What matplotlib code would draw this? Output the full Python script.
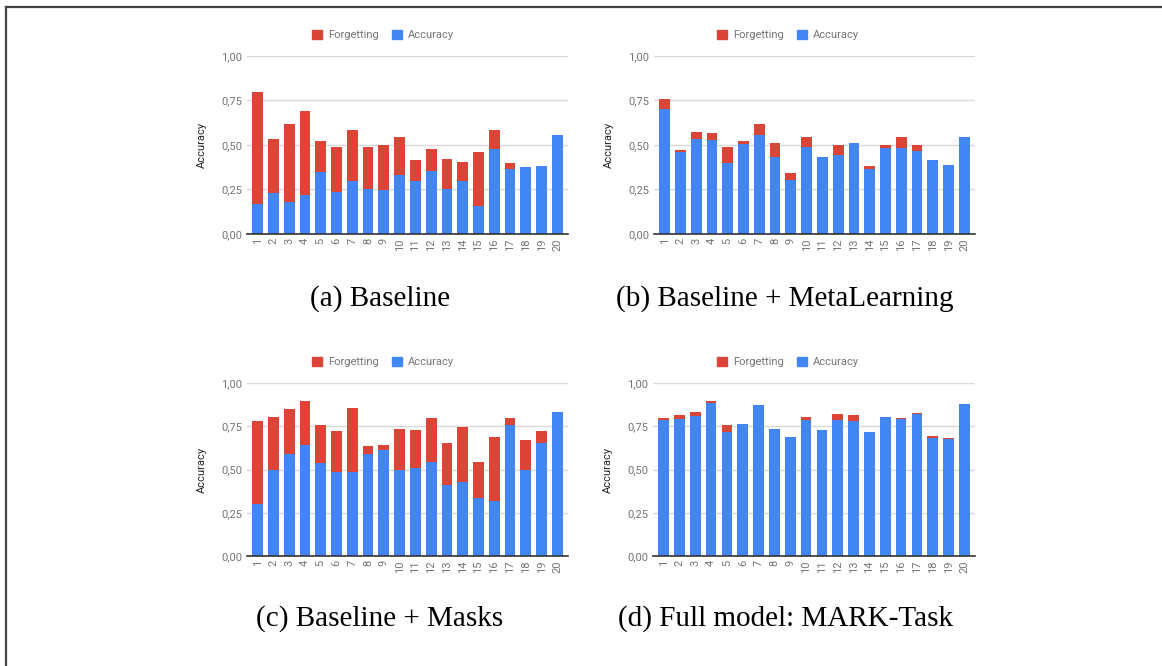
import matplotlib
matplotlib.use("Agg")
import matplotlib.pyplot as plt
from matplotlib.patches import Patch
from matplotlib.lines import Line2D
import numpy as np

plt.rcParams["font.family"] = ["Roboto", "DejaVu Sans"]

tasks = [str(i) for i in range(1, 21)]

# (a) Baseline
acc_base = [0.17, 0.23, 0.18, 0.22, 0.35, 0.235, 0.30, 0.255, 0.25, 0.33,
            0.30, 0.355, 0.255, 0.295, 0.16, 0.48, 0.365, 0.375, 0.38, 0.555]
forg_base = [0.63, 0.305, 0.44, 0.47, 0.17, 0.255, 0.285, 0.235, 0.25, 0.215,
             0.115, 0.125, 0.165, 0.11, 0.30, 0.105, 0.035, 0.0, 0.0, 0.0]

# (b) Baseline + MetaLearning
acc_meta = [0.70, 0.46, 0.535, 0.53, 0.40, 0.505, 0.555, 0.435, 0.305, 0.49,
            0.43, 0.445, 0.51, 0.365, 0.485, 0.485, 0.465, 0.415, 0.385, 0.545]
forg_meta = [0.06, 0.01, 0.04, 0.04, 0.09, 0.015, 0.065, 0.075, 0.04, 0.055,
             0.005, 0.055, 0.0, 0.015, 0.015, 0.06, 0.035, 0.0, 0.0, 0.0]

# (c) Baseline + Masks
acc_masks = [0.30, 0.50, 0.59, 0.64, 0.54, 0.485, 0.485, 0.59, 0.61, 0.50,
             0.51, 0.545, 0.41, 0.43, 0.335, 0.32, 0.76, 0.50, 0.655, 0.835]
forg_masks = [0.48, 0.305, 0.26, 0.255, 0.22, 0.24, 0.37, 0.045, 0.03, 0.235,
              0.22, 0.25, 0.245, 0.315, 0.21, 0.365, 0.04, 0.17, 0.07, 0.0]

# (d) Full model: MARK-Task
acc_full = [0.785, 0.793, 0.81, 0.885, 0.715, 0.762, 0.871, 0.733, 0.687, 0.785,
            0.727, 0.785, 0.783, 0.716, 0.802, 0.793, 0.82, 0.68, 0.674, 0.877]
forg_full = [0.012, 0.022, 0.025, 0.013, 0.045, 0.0, 0.0, 0.0, 0.0, 0.021,
             0.0, 0.035, 0.031, 0.0, 0.0, 0.004, 0.005, 0.013, 0.006, 0.0]

captions = ["(a) Baseline", "(b) Baseline + MetaLearning",
            "(c) Baseline + Masks", "(d) Full model: MARK-Task"]

RED = "#db4437"
BLUE = "#4285f4"
GREY = "#757575"

W, H = 1162, 666
fig = plt.figure(figsize=(W / 100, H / 100), dpi=100)


def px_axes(left, right, top, bottom):
    return fig.add_axes([left / W, 1 - bottom / H, (right - left) / W, (bottom - top) / H])


panels = [
    (acc_base, forg_base, (247, 568, 56, 234), (383, 35), (380, 299)),
    (acc_meta, forg_meta, (654, 975, 56, 234), (788, 35), (785, 299)),
    (acc_masks, forg_masks, (247, 568, 383, 556), (383, 362), (380, 619)),
    (acc_full, forg_full, (653, 975, 383, 556), (788, 362), (785, 619)),
]

x = np.arange(1, 21)
for (acc, forg, box, leg_xy, cap_xy), caption in zip(panels, captions):
    ax = px_axes(*box)
    ax.bar(x, acc, width=0.68, color=BLUE, zorder=2)
    ax.bar(x, forg, bottom=acc, width=0.68, color=RED, zorder=2)
    ax.set_xlim(0.33, 20.67)
    ax.set_ylim(0, 1)
    ax.set_yticks([0, 0.25, 0.5, 0.75, 1.0])
    ax.set_yticklabels(["0,00", "0,25", "0,50", "0,75", "1,00"])
    ax.set_xticks(x)
    ax.set_xticklabels(tasks, rotation=90)
    ax.grid(axis="y", color="#d9d9d9", linewidth=1, zorder=0)
    for s in ["top", "right", "left"]:
        ax.spines[s].set_visible(False)
    ax.spines["bottom"].set_color("#333333")
    ax.spines["bottom"].set_linewidth(1.2)
    ax.spines["bottom"].set_zorder(3)
    ax.tick_params(length=0, labelsize=8, labelcolor=GREY, pad=3.5)
    ax.tick_params(axis="x", pad=3)
    ax.set_ylabel("Accuracy", fontsize=8, color="#222222", labelpad=10)

    handles = [Patch(color=RED, label="Forgetting"), Patch(color=BLUE, label="Accuracy")]
    leg = ax.legend(handles=handles, loc="center", ncol=2, frameon=False,
                    bbox_to_anchor=(leg_xy[0] / W, 1 - leg_xy[1] / H),
                    bbox_transform=fig.transFigure, fontsize=8,
                    handlelength=0.9, handleheight=0.9, handletextpad=0.55,
                    columnspacing=1.2)
    for t in leg.get_texts():
        t.set_color(GREY)

    fig.text(cap_xy[0] / W, 1 - cap_xy[1] / H, caption, ha="center", va="center",
             fontsize=21, family="Liberation Serif", color="black")

# frame lines on the left and top edges
fig.add_artist(Line2D([5.5 / W, 5.5 / W], [0, 1 - 7 / H], transform=fig.transFigure,
                      color="#444444", linewidth=1.6))
fig.add_artist(Line2D([5.5 / W, 1], [1 - 7 / H, 1 - 7 / H], transform=fig.transFigure,
                      color="#444444", linewidth=1.6))

fig.savefig("out.png", dpi=100)
